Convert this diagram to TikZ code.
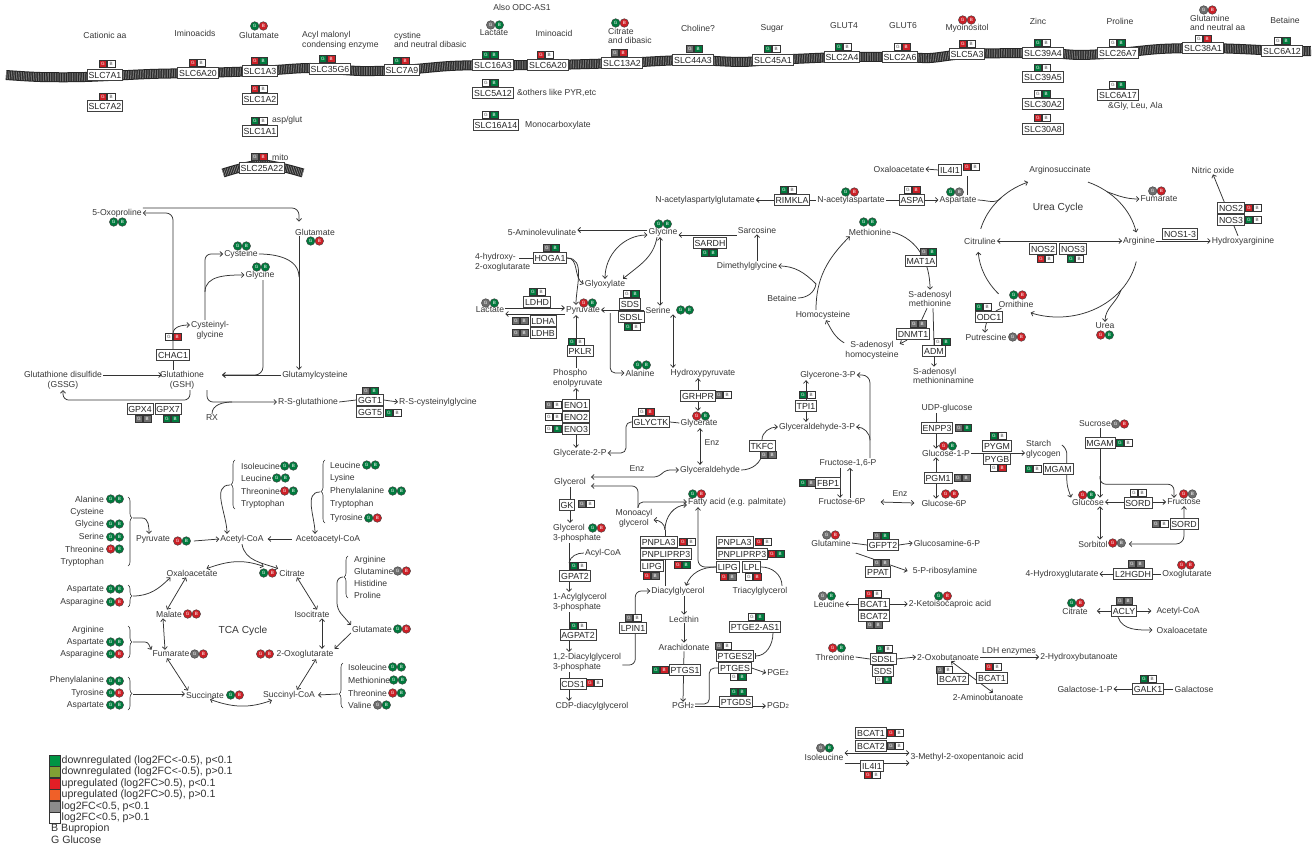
\documentclass[tikz,border=0pt]{standalone}
\usepackage{fontspec}
\setmainfont{Liberation Sans}
\usetikzlibrary{arrows.meta,decorations.pathreplacing}
\pgfdeclarelayer{bg}
\pgfsetlayers{bg,main}

\definecolor{gn}{RGB}{0,122,61}
\definecolor{rd}{RGB}{204,32,39}
\definecolor{gy}{RGB}{110,110,110}
\definecolor{wh}{RGB}{255,255,255}
\definecolor{lgn}{RGB}{0,148,68}
\definecolor{lol}{RGB}{128,160,52}
\definecolor{lrd}{RGB}{226,30,38}
\definecolor{lor}{RGB}{240,96,40}
\definecolor{lgy}{RGB}{140,140,140}
\colorlet{gnL}{white}
\colorlet{rdL}{white}
\colorlet{gyL}{white}
\colorlet{whL}{black!70}

% G/B boxes beside a gene: name, x, y, colour G, colour B
\newcommand{\gensq}[5]{%
  \node[sqr, fill=#4, text=#4L, anchor=east, xshift=-0.4pt] (#1g) at (#2,#3) {G};
  \node[sqr, fill=#5, text=#5L, anchor=west, xshift=0.4pt] (#1b) at (#2,#3) {B};}
% G/B dots beside a metabolite
\newcommand{\metdot}[5]{%
  \node[dotc, fill=#4, text=#4L, anchor=east, xshift=0.2pt] (#1g) at (#2,#3) {G};
  \node[dotc, fill=#5, text=#5L, anchor=west, xshift=-0.2pt] (#1b) at (#2,#3) {B};}

\begin{document}
\begin{tikzpicture}[
  x=1pt, y=-1pt,
  met/.style={font=\fontsize{8.6}{9.8}\selectfont, text=black!78, inner sep=1pt, align=center},
  big/.style={font=\fontsize{10.2}{11}\selectfont, text=black!78, inner sep=1pt},
  gene/.style={draw=black!75, line width=0.7pt, fill=white, font=\fontsize{8.8}{9}\selectfont, text=black!85, inner xsep=1.4pt, inner ysep=0pt, minimum height=11.6pt},
  sqr/.style={draw=black!80, line width=0.4pt, minimum width=7.2pt, minimum height=7pt, inner sep=0pt, font=\fontsize{4.6}{4.6}\selectfont},
  dotc/.style={circle, draw=black!75, line width=0.4pt, minimum size=8.6pt, inner sep=0pt, font=\fontsize{4.6}{4.6}\selectfont},
  ln/.style={draw=black!80, line width=0.75pt},
  arr/.style={ln, -{Straight Barb[length=2.6pt,width=5pt]}},
  darr/.style={ln, {Straight Barb[length=2.6pt,width=5pt]}-{Straight Barb[length=2.6pt,width=5pt]}},
  inh/.style={ln, -{Bar[width=6pt]}},
  brc/.style={draw=black!80, line width=0.6pt, decorate, decoration={brace, amplitude=4pt, aspect=#1}},
  brc/.default=0.5,
  lgd/.style={font=\fontsize{10.6}{11}\selectfont, text=black!80, anchor=west, inner sep=0pt}
]
\useasboundingbox (0,0) rectangle (1314,850);
\begin{pgfonlayer}{bg}
  \fill[white] (0,0) rectangle (1314,850);
\end{pgfonlayer}

% membranes
\draw[line width=10pt, black!85] plot[smooth] coordinates {(6,75) (40,77) (85,77) (150,74) (198,73) (260,71) (310,68) (360,71) (402,70) (450,66) (493,65) (548,65) (622,63) (660,61) (693,60) (740,62) (773,60) (842,57) (900,57) (930,58) (967,54) (1043,53) (1080,55) (1118,53) (1160,49) (1203,48) (1240,49) (1282,51) (1311,51)};
\draw[line width=8pt, black!40, dash pattern=on 0.5pt off 1.2pt] plot[smooth] coordinates {(6,75) (40,77) (85,77) (150,74) (198,73) (260,71) (310,68) (360,71) (402,70) (450,66) (493,65) (548,65) (622,63) (660,61) (693,60) (740,62) (773,60) (842,57) (900,57) (930,58) (967,54) (1043,53) (1080,55) (1118,53) (1160,49) (1203,48) (1240,49) (1282,51) (1311,51)};
\draw[line width=9pt, black!85] plot[smooth] coordinates {(223,173) (262,164) (303,173)};
\draw[line width=7pt, black!40, dash pattern=on 0.5pt off 1.2pt] plot[smooth] coordinates {(223,173) (262,164) (303,173)};

% transporters
\node[met] (catAA) at (105,35) {Cationic aa};
\node[met] (imino) at (195,33) {Iminoacids};
\node[met] (gluT) at (259,35) {Glutamate}; \metdot{dgluT}{259}{26}{gn}{rd}
\node[met, anchor=west, align=left] (acyl) at (301,40) {Acyl malonyl\\condensing enzyme};
\node[met, anchor=west, align=left] (cysdib) at (393,40) {cystine\\and neutral dibasic};
\node[met] (odcas) at (522,7) {Also ODC-AS1};
\node[met] (lacT) at (494,33) {Lactate}; \metdot{dlacT}{495}{25}{gy}{gn}
\node[met] (iminoB) at (554,33) {Iminoacid};
\node[met, anchor=west, align=left] (citT) at (607,36) {Citrate\\and dibasic}; \metdot{dcitT}{620}{23}{gn}{rd}
\node[met] (chol) at (698,28) {Choline?};
\node[met] (sugar) at (772,28) {Sugar};
\node[met] (glut4) at (844,26) {GLUT4};
\node[met] (glut6) at (903,26) {GLUT6};
\node[met] (myo) at (967,28) {Myoinositol}; \metdot{dmyo}{967}{20}{rd}{rd}
\node[met] (zinc) at (1038,21) {Zinc};
\node[met] (proT) at (1120,21) {Proline};
\node[met, anchor=west, align=left] (glnT) at (1189,23) {Glutamine\\and neutral aa}; \metdot{dglnT}{1208}{10}{gy}{rd}
\node[met] (betT) at (1285,20) {Betaine};

\node[gene] (slc7a1) at (105,75) {SLC7A1}; \gensq{slc7a1}{107}{64}{rd}{wh}
\node[gene] (slc7a2) at (105,106) {SLC7A2}; \gensq{slc7a2}{107}{97}{rd}{wh}
\node[gene] (slc6a20a) at (198,73) {SLC6A20}; \gensq{slc6a20a}{197}{63}{rd}{wh}
\node[gene] (slc1a3) at (260,71) {SLC1A3}; \gensq{slc1a3}{259}{61}{rd}{gn}
\node[gene] (slc1a2) at (260,99) {SLC1A2}; \gensq{slc1a2}{259}{89}{rd}{wh}
\node[gene] (slc1a1) at (260,131) {SLC1A1}; \gensq{slc1a1}{259}{121}{gn}{wh}
\node[met, anchor=west] (aspglu) at (271,120) {asp/glut};
\node[gene] (slc25a22) at (262,168) {SLC25A22}; \gensq{slc25a22}{259}{157}{gy}{rd}
\node[met, anchor=west] (mito) at (271,157) {mito};
\node[gene] (slc35g6) at (330,69) {SLC35G6}; \gensq{slc35g6}{327}{59}{gn}{rd}
\node[gene] (slc7a9) at (402,70) {SLC7A9}; \gensq{slc7a9}{401}{61}{gn}{rd}
\node[gene] (slc16a3) at (493,65) {SLC16A3}; \gensq{slc16a3}{490}{55}{gn}{gn}
\node[gene] (slc6a20b) at (548,65) {SLC6A20}; \gensq{slc6a20b}{545}{55}{rd}{wh}
\node[gene] (slc13a2) at (622,63) {SLC13A2}; \gensq{slc13a2}{619}{53}{gy}{rd}
\node[gene] (slc5a12) at (493,93) {SLC5A12}; \gensq{slc5a12}{490}{83}{wh}{gn}
\node[met, anchor=west] (pyrT) at (516,93) {\&others like PYR,etc};
\node[gene] (slc16a14) at (496,125) {SLC16A14}; \gensq{slc16a14}{490}{115}{wh}{gn}
\node[met, anchor=west] (monoc) at (524,125) {Monocarboxylate};
\node[gene] (slc44a3) at (693,60) {SLC44A3}; \gensq{slc44a3}{694}{49}{gy}{gn}
\node[gene] (slc45a1) at (773,60) {SLC45A1}; \gensq{slc45a1}{772}{49}{gn}{wh}
\node[gene] (slc2a4) at (842,57) {SLC2A4}; \gensq{slc2a4}{843}{47}{gn}{wh}
\node[gene] (slc2a6) at (900,57) {SLC2A6}; \gensq{slc2a6}{902}{47}{wh}{rd}
\node[gene] (slc5a3) at (967,54) {SLC5A3}; \gensq{slc5a3}{967}{44}{rd}{wh}
\node[gene] (slc39a4) at (1043,53) {SLC39A4}; \gensq{slc39a4}{1042}{43}{gn}{wh}
\node[gene] (slc39a5) at (1043,77) {SLC39A5}; \gensq{slc39a5}{1042}{68}{gn}{wh}
\node[gene] (slc30a2) at (1043,104) {SLC30A2}; \gensq{slc30a2}{1042}{94}{wh}{gn}
\node[gene] (slc30a8) at (1043,129) {SLC30A8}; \gensq{slc30a8}{1042}{118}{rd}{wh}
\node[gene] (slc26a7) at (1118,53) {SLC26A7}; \gensq{slc26a7}{1117}{43}{wh}{gn}
\node[gene] (slc6a17) at (1118,95) {SLC6A17}; \gensq{slc6a17}{1117}{85}{wh}{gn}
\node[met, anchor=west] (glyleu) at (1107,106) {\&Gly, Leu, Ala};
\node[gene] (slc38a1) at (1203,48) {SLC38A1}; \gensq{slc38a1}{1203}{39}{wh}{rd}
\node[gene] (slc6a12) at (1282,51) {SLC6A12}; \gensq{slc6a12}{1282}{41}{wh}{gn}

% glutathione
\node[met] (oxopro) at (117,213) {5-Oxoproline}; \metdot{doxo}{118}{222}{gn}{gn}
\node[met] (gluG) at (315,232) {Glutamate}; \metdot{dgluG}{315}{241}{gn}{rd}
\node[met] (cys) at (241,254) {Cysteine}; \metdot{dcys}{242}{246}{gn}{gn}
\node[met] (glyA) at (260,275) {Glycine}; \metdot{dglyA}{261}{267}{gn}{gn}
\node[met] (cysgly) at (210,330) {Cysteinyl-\\glycine};
\node[met] (gsh) at (182,380) {Glutathione\\(GSH)};
\node[met] (gssg) at (63,380) {Glutathione disulfide\\(GSSG)};
\node[met] (glucys) at (315,375) {Glutamylcysteine};
\node[met] (rsglu) at (308,402) {R-S-glutathione};
\node[met] (rx) at (212,418) {RX};
\node[met, anchor=west] (rscg) at (398,402) {R-S-cysteinylglycine};
\node[gene] (chac1) at (173,355) {CHAC1}; \gensq{chac1}{173}{337}{wh}{rd}
\node[gene] (gpx4) at (140,409) {GPX4}; \gensq{gpx4}{143}{419}{gy}{gy}
\node[gene] (gpx7) at (168,409) {GPX7}; \gensq{gpx7}{171}{419}{gn}{gn}
\node[gene] (ggt1) at (370,400) {GGT1}; \gensq{ggt1}{370}{391}{gy}{gn}
\node[gene] (ggt5) at (370,412) {GGT5}; \gensq{ggt5}{393}{413}{gn}{wh}

% glycine, serine and pyruvate
\node[met] (nagg) at (705,200) {N-acetylaspartylglutamate};
\node[gene] (rimkla) at (792,200) {RIMKLA}; \gensq{rimkla}{788}{190}{gn}{wh}
\node[met] (naa) at (851,200) {N-acetylaspartate}; \metdot{dnaa}{850}{192}{gn}{rd}
\node[gene] (aspa) at (912,200) {ASPA}; \gensq{aspa}{912}{190}{wh}{rd}
\node[met] (asp) at (958,200) {Aspartate}; \metdot{dasp}{955}{192}{gn}{gy}
\node[met] (oaaU) at (899,169) {Oxaloacetate};
\node[gene] (il4i1a) at (950,170) {IL4I1}; \gensq{il4i1a}{971}{167}{rd}{wh}
\node[met] (glyB) at (663,232) {Glycine}; \metdot{dglyB}{663}{224}{gn}{gn}
\node[met] (ala5) at (542,232) {5-Aminolevulinate};
\node[met] (sarc) at (757,230) {Sarcosine};
\node[gene] (sardh) at (710,243) {SARDH}; \gensq{sardh}{709}{253}{gn}{gn}
\node[met] (dmg) at (747,266) {Dimethylglycine};
\node[met] (bet) at (782,298) {Betaine};
\node[met] (hcy) at (823,315) {Homocysteine};
\node[met] (meth) at (870,232) {Methionine}; \metdot{dmeth}{868}{222}{gn}{gn}
\node[met, anchor=west, align=left] (hoxo) at (474,262) {4-hydroxy-\\2-oxoglutarate};
\node[gene] (hoga1) at (550,258) {HOGA1}; \gensq{hoga1}{551}{248}{gy}{gn}
\node[met] (glyox) at (605,284) {Glyoxylate};
\node[met] (pyr) at (583,310) {Pyruvate}; \metdot{dpyr}{588}{303}{rd}{gn}
\node[met] (lac) at (490,310) {Lactate}; \metdot{dlac}{490}{303}{gy}{gn}
\node[gene] (ldhd) at (537,302) {LDHD}; \gensq{ldhd}{537}{292}{gn}{wh}
\node[gene] (ldha) at (543,321) {LDHA}; \gensq{ldha}{520}{321}{gy}{gy}
\node[gene] (ldhb) at (543,333) {LDHB}; \gensq{ldhb}{520}{333}{gy}{gy}
\node[met] (ser) at (658,310) {Serine}; \metdot{dser}{685}{310}{gn}{gn}
\node[gene] (sds) at (630,304) {SDS}; \gensq{sds}{631}{294}{wh}{gn}
\node[gene] (sdsl) at (631,317) {SDSL}; \gensq{sdsl}{632}{327}{gn}{wh}
\node[met] (ala) at (640,373) {Alanine}; \metdot{dala}{642}{365}{gn}{gn}
\node[met] (hpyr) at (703,373) {Hydroxypyruvate};
\node[gene] (pklr) at (580,351) {PKLR}; \gensq{pklr}{576}{342}{gn}{wh}
\node[met, anchor=west, align=left] (pep) at (552,378) {Phospho\\enolpyruvate};
\node[gene] (eno1) at (576,405) {ENO1}; \gensq{eno1}{553}{405}{gy}{wh}
\node[gene] (eno2) at (576,417) {ENO2}; \gensq{eno2}{553}{417}{wh}{wh}
\node[gene] (eno3) at (576,429) {ENO3}; \gensq{eno3}{553}{429}{wh}{gn}
\node[met] (g2p) at (580,453) {Glycerate-2-P};
\node[gene] (grhpr) at (698,396) {GRHPR}; \gensq{grhpr}{723}{395}{gy}{wh}
\node[met] (glyc) at (699,423) {Glycerate}; \metdot{dglyc}{701}{416}{rd}{gn}
\node[gene] (glyctk) at (651,422) {GLYCTK}; \gensq{glyctk}{646}{412}{wh}{rd}
\node[met] (glyald) at (710,470) {Glyceraldehyde};
\node[met] (enzA) at (712,443) {Enz};
\node[met] (enzB) at (637,469) {Enz};
\node[gene] (tkfc) at (762,446) {TKFC}; \gensq{tkfc}{768}{455}{gy}{gy}

% lipids
\node[met] (glyl) at (570,482) {Glycerol};
\node[gene] (gk) at (567,505) {GK}; \gensq{gk}{586}{504}{gy}{wh}
\node[met, anchor=west, align=left] (g3p) at (552,533) {Glycerol\\3-phosphate}; \metdot{dg3p}{597}{528}{gn}{rd}
\node[gene] (gpat2) at (575,576) {GPAT2}; \gensq{gpat2}{578}{566}{gn}{wh}
\node[met] (acoaB) at (603,553) {Acyl-CoA};
\node[met, anchor=west, align=left] (acg) at (552,602) {1-Acylglycerol\\3-phosphate};
\node[gene] (agpat2) at (578,635) {AGPAT2}; \gensq{agpat2}{578}{626}{gn}{wh}
\node[met, anchor=west, align=left] (dagp) at (552,662) {1,2-Diacylglycerol\\3-phosphate};
\node[gene] (cds1) at (573,684) {CDS1}; \gensq{cds1}{594}{683}{rd}{wh}
\node[met] (cdpdag) at (592,706) {CDP-diacylglycerol};
\node[gene] (lpin1) at (633,628) {LPIN1}; \gensq{lpin1}{633}{618}{gy}{wh}
\node[met] (mag) at (634,518) {Monoacyl\\glycerol};
\node[met] (fa) at (737,502) {Fatty acid (e.g. palmitate)}; \metdot{dfa}{697}{494}{gn}{rd}
\node[met] (dag) at (678,591) {Diacylglycerol};
\node[met] (tag) at (760,591) {Triacylglycerol};
\node[met] (lec) at (684,619) {Lecithin};
\node[met] (arach) at (684,647) {Arachidonate};
\node[gene, anchor=west] (pnpla3a) at (640,542) {PNPLA3}; \gensq{pnpla3a}{687}{542}{rd}{wh}
\node[gene, anchor=west] (pnliprp3a) at (640,554) {PNPLIPRP3}; \gensq{pnliprp3a}{682}{565}{rd}{gn}
\node[gene, anchor=west] (lipga) at (640,566) {LIPG}; \gensq{lipga}{651}{576}{rd}{gy}
\node[gene, anchor=west] (pnpla3b) at (716,542) {PNPLA3}; \gensq{pnpla3b}{763}{542}{rd}{wh}
\node[gene, anchor=west] (pnliprp3b) at (716,554) {PNPLIPRP3}; \gensq{pnliprp3b}{776}{554}{rd}{gn}
\node[gene, anchor=west] (lipgb) at (716,567) {LIPG}; \gensq{lipgb}{728}{577}{rd}{gy}
\node[gene, anchor=west] (lpl) at (742,567) {LPL}; \gensq{lpl}{753}{577}{wh}{rd}
\node[gene] (ptgeas) at (755,627) {PTGE2-AS1}; \gensq{ptgeas}{756}{617}{wh}{gn}
\node[gene] (ptges2) at (735,656) {PTGES2}; \gensq{ptges2}{723}{646}{gy}{wh}
\node[gene] (ptges) at (735,668) {PTGES}; \gensq{ptges}{738}{677}{wh}{gn}
\node[met] (pge2) at (778,673) {PGE{\fontsize{6}{6}\selectfont 2}};
\node[gene] (ptgs1) at (685,670) {PTGS1}; \gensq{ptgs1}{660}{670}{gn}{rd}
\node[met] (pgh2) at (683,706) {PGH{\fontsize{6}{6}\selectfont 2}};
\node[gene] (ptgds) at (736,702) {PTGDS}; \gensq{ptgds}{738}{692}{gn}{gn}
\node[met] (pgd2) at (778,706) {PGD{\fontsize{6}{6}\selectfont 2}};

% urea and methionine cycles
\node[met] (argsuc) at (1060,170) {Arginosuccinate};
\node[big] (ucyc) at (1058,208) {Urea Cycle};
\node[met] (citr) at (980,241) {Citruline};
\node[met] (arg) at (1139,241) {Arginine};
\node[met] (fum2) at (1159,199) {Fumarate}; \metdot{dfum2}{1157}{191}{gy}{rd}
\node[gene] (nos2a) at (1043,249) {NOS2}; \gensq{nos2a}{1045}{259}{rd}{wh}
\node[gene] (nos3a) at (1073,249) {NOS3}; \gensq{nos3a}{1075}{259}{gn}{wh}
\node[gene] (nos13) at (1180,234) {NOS1-3};
\node[met] (harg) at (1243,241) {Hydroxyarginine};
\node[gene] (nos2b) at (1231,208) {NOS2}; \gensq{nos2b}{1253}{208}{rd}{wh}
\node[gene] (nos3b) at (1231,220) {NOS3}; \gensq{nos3b}{1253}{220}{gn}{wh}
\node[met] (nitox) at (1213,170) {Nitric oxide};
\node[met] (orn) at (1016,304) {Ornithine}; \metdot{dorn}{1018}{295}{gn}{rd}
\node[gene] (odc1) at (989,317) {ODC1}; \gensq{odc1}{983}{307}{gn}{wh}
\node[met] (putr) at (986,337) {Putrescine}; \metdot{dputr}{1017}{337}{gy}{rd}
\node[met] (urea) at (1105,326) {Urea}; \metdot{durea}{1105}{335}{rd}{gn}
\node[gene] (mat1a) at (921,261) {MAT1A}; \gensq{mat1a}{928}{252}{gy}{gn}
\node[met] (sam) at (930,299) {S-adenosyl\\methionine};
\node[gene] (dnmt1) at (913,334) {DNMT1}; \gensq{dnmt1}{918}{324}{gy}{gy}
\node[met] (sah) at (872,350) {S-adenosyl\\homocysteine};
\node[gene] (adm) at (934,351) {ADM}; \gensq{adm}{942}{342}{wh}{gn}
\node[met, anchor=west, align=left] (samn) at (912,376) {S-adenosyl\\methioninamine};

% sugars
\node[met] (glycn) at (828,375) {Glycerone-3-P};
\node[gene] (tpi1) at (806,406) {TPI1}; \gensq{tpi1}{807}{395}{gn}{wh}
\node[met] (gly3p) at (817,427) {Glyceraldehyde-3-P};
\node[met] (f16p) at (848,463) {Fructose-1,6-P};
\node[gene] (fbp1) at (828,483) {FBP1}; \gensq{fbp1}{807}{483}{gn}{gy}
\node[met] (f6p) at (842,502) {Fructose-6P};
\node[met] (enzC) at (900,494) {Enz};
\node[met] (g6p) at (944,503) {Glucose-6P}; \metdot{dg6p}{950}{494}{rd}{rd}
\node[gene] (pgm1) at (938,478) {PGM1}; \gensq{pgm1}{962}{478}{gy}{gy}
\node[met] (g1p) at (946,453) {Glucose-1-P}; \metdot{dg1p}{948}{446}{rd}{gn}
\node[gene] (enpp3) at (937,428) {ENPP3}; \gensq{enpp3}{963}{428}{gy}{gn}
\node[met] (udpg) at (947,408) {UDP-glucose};
\node[gene] (pygm) at (997,446) {PYGM}; \gensq{pygm}{998}{436}{gn}{wh}
\node[gene] (pygb) at (997,459) {PYGB}; \gensq{pygb}{998}{468}{wh}{rd}
\node[met, anchor=west, align=left] (starch) at (1025,449) {Starch\\glycogen};
\node[gene] (mgamb) at (1058,469) {MGAM}; \gensq{mgamb}{1033}{469}{gn}{wh}
\node[met] (glc) at (1088,502) {Glucose}; \metdot{dglc}{1087}{495}{rd}{gn}
\node[met] (sucr) at (1095,424) {Sucrose}; \metdot{dsucr}{1120}{424}{gy}{rd}
\node[gene] (mgama) at (1100,443) {MGAM}; \gensq{mgama}{1124}{443}{gn}{wh}
\node[met] (fru) at (1184,502) {Fructose}; \metdot{dfru}{1188}{494}{rd}{gy}
\node[gene] (sorda) at (1138,503) {SORD}; \gensq{sorda}{1138}{493}{wh}{wh}
\node[met] (sorb) at (1093,544) {Sorbitol}; \metdot{dsorb}{1117}{543}{rd}{gy}
\node[gene] (sordb) at (1184,524) {SORD}; \gensq{sordb}{1160}{524}{gy}{wh}

% amino acid side reactions
\node[met] (gln) at (831,543) {Glutamine}; \metdot{dgln}{831}{535}{gy}{rd}
\node[gene] (gfpt2) at (883,545) {GFPT2}; \gensq{gfpt2}{881}{536}{gy}{gn}
\node[met] (gcn6p) at (947,543) {Glucosamine-6-P};
\node[gene] (ppat) at (878,572) {PPAT}; \gensq{ppat}{881}{563}{gy}{gy}
\node[met] (prib) at (945,571) {5-P-ribosylamine};
\node[met] (hglu) at (1062,574) {4-Hydroxyglutarate};
\node[gene] (l2hgdh) at (1133,574) {L2HGDH}; \gensq{l2hgdh}{1136}{564}{gy}{gy}
\node[met] (oxg) at (1187,574) {Oxoglutarate}; \metdot{doxg}{1186}{565}{rd}{rd}
\node[met] (leu) at (829,604) {Leucine}; \metdot{dleu}{827}{596}{gy}{gn}
\node[gene] (bcat1a) at (874,604) {BCAT1}; \gensq{bcat1a}{873}{594}{rd}{wh}
\node[gene] (bcat2a) at (874,616) {BCAT2}; \gensq{bcat2a}{874}{625}{gy}{gy}
\node[met] (kic) at (950,604) {2-Ketoisocaproic acid}; \metdot{dkic}{943}{596}{gn}{rd}
\node[met] (citB) at (1075,611) {Citrate}; \metdot{dcitB}{1076}{603}{gn}{rd}
\node[gene] (acly) at (1124,611) {ACLY}; \gensq{acly}{1124}{601}{gy}{gy}
\node[met] (acoaC) at (1178,611) {Acetyl-CoA};
\node[met] (oaaC) at (1182,630) {Oxaloacetate};
\node[met] (thr) at (835,657) {Threonine}; \metdot{dthr}{837}{648}{rd}{gn}
\node[gene] (sdslB) at (883,659) {SDSL}; \gensq{sdslB}{884}{649}{gn}{wh}
\node[gene] (sdsB) at (883,671) {SDS}; \gensq{sdsB}{883}{680}{wh}{gn}
\node[met] (obut) at (948,657) {2-Oxobutanoate};
\node[met] (ldhe) at (1009,651) {LDH enzymes};
\node[met] (hbut) at (1079,657) {2-Hydroxybutanoate};
\node[gene] (bcat2b) at (953,679) {BCAT2}; \gensq{bcat2b}{944}{670}{gy}{wh}
\node[gene] (bcat1b) at (992,678) {BCAT1}; \gensq{bcat1b}{993}{667}{rd}{wh}
\node[met] (abut) at (988,697) {2-Aminobutanoate};
\node[met] (gal1p) at (1085,689) {Galactose-1-P};
\node[gene] (galk1) at (1148,689) {GALK1}; \gensq{galk1}{1148}{679}{gn}{wh}
\node[met] (galac) at (1194,689) {Galactose};
\node[met] (ileB) at (824,757) {Isoleucine}; \metdot{dileB}{825}{748}{gy}{gn}
\node[gene] (bcat1c) at (871,733) {BCAT1}; \gensq{bcat1c}{895}{733}{rd}{wh}
\node[gene] (bcat2c) at (871,746) {BCAT2}; \gensq{bcat2c}{895}{746}{gy}{wh}
\node[gene] (il4i1b) at (872,766) {IL4I1}; \gensq{il4i1b}{872}{775}{rd}{wh}
\node[met] (mop) at (967,757) {3-Methyl-2-oxopentanoic acid};

% TCA cycle
\node[met] (pyrB) at (153,539) {Pyruvate}; \metdot{dpyrB}{182}{541}{rd}{gn}
\node[met] (acoa) at (242,539) {Acetyl-CoA};
\node[met] (aacoa) at (328,539) {Acetoacetyl-CoA};
\node[met] (oaa) at (192,573) {Oxaloacetate};
\node[met] (cit) at (292,573) {Citrate}; \metdot{dcit}{268}{573}{gn}{rd}
\node[met] (icit) at (312,614) {Isocitrate};
\node[met] (akg) at (305,654) {2-Oxoglutarate}; \metdot{dakg}{265}{654}{rd}{rd}
\node[met] (scoa) at (289,695) {Succinyl-CoA};
\node[met] (succ) at (205,695) {Succinate}; \metdot{dsucc}{235}{695}{gn}{rd}
\node[met] (fum) at (171,654) {Fumarate}; \metdot{dfum}{199}{654}{gy}{rd}
\node[met] (mal) at (169,614) {Malate}; \metdot{dmal}{192}{614}{rd}{rd}
\node[big] (tca) at (243,631) {TCA Cycle};
\node[met] (glu3) at (372,629) {Glutamate}; \metdot{dglu3}{402}{629}{gn}{rd}

% amino acid lists
\foreach \t/\y/\n in {Alanine/499/la1, Cysteine/512/la2, Glycine/524/la3, Serine/536/la4, Threonine/549/la5, Tryptophan/562/la6,
    Aspartate/589/lb1, Asparagine/602/lb2, Arginine/630/lc1, Aspartate/642/lc2, Asparagine/654/lc3,
    Phenylalanine/680/ld1, Tyrosine/693/ld2, Aspartate/705/ld3}
  \node[met, anchor=east] (\n) at (105,\y) {\t};
\metdot{dla1}{115}{499}{gn}{gn} \metdot{dla3}{115}{524}{gn}{gn} \metdot{dla4}{115}{537}{gn}{gn} \metdot{dla5}{115}{549}{rd}{gn}
\metdot{dlb1}{115}{589}{gn}{gn} \metdot{dlb2}{115}{602}{gn}{rd}
\metdot{dlc2}{115}{642}{gn}{gn} \metdot{dlc3}{115}{654}{gn}{rd}
\metdot{dld1}{115}{681}{gn}{gn} \metdot{dld2}{115}{693}{gn}{rd} \metdot{dld3}{115}{705}{gn}{gn}
\foreach \t/\y/\n in {Isoleucine/466/le1, Leucine/478/le2, Threonine/491/le3, Tryptophan/504/le4}
  \node[met, anchor=west] (\n) at (240,\y) {\t};
\metdot{dle1}{289}{466}{gn}{gn} \metdot{dle2}{281}{478}{gn}{gn} \metdot{dle3}{289}{491}{rd}{gn}
\foreach \t/\y/\n in {Leucine/465/lf1, Lysine/478/lf2, Phenylalanine/491/lf3, Tryptophan/504/lf4, Tyrosine/518/lf5}
  \node[met, anchor=west] (\n) at (329,\y) {\t};
\metdot{dlf1}{371}{465}{gn}{gn} \metdot{dlf3}{397}{491}{gn}{gn} \metdot{dlf5}{373}{518}{gn}{rd}
\foreach \t/\y/\n in {Arginine/560/lg1, Glutamine/571/lg2, Histidine/583/lg3, Proline/595/lg4}
  \node[met, anchor=west] (\n) at (353,\y) {\t};
\metdot{dlg2}{402}{571}{gy}{rd}
\foreach \t/\y/\n in {Isoleucine/667/lh1, Methionine/680/lh2, Threonine/693/lh3, Valine/705/lh4}
  \node[met, anchor=west] (\n) at (347,\y) {\t};
\metdot{dlh1}{397}{667}{gn}{gn} \metdot{dlh2}{398}{680}{gn}{gn} \metdot{dlh3}{397}{693}{rd}{gn} \metdot{dlh4}{382}{705}{gy}{gn}

% brace ends and tips
\coordinate (b1a) at (128,497); \coordinate (b1b) at (128,566); \coordinate (b1t) at (133,518);
\coordinate (b2a) at (128,585); \coordinate (b2b) at (128,607); \coordinate (b2t) at (133,596);
\coordinate (b3a) at (128,626); \coordinate (b3b) at (128,658); \coordinate (b3t) at (133,642);
\coordinate (b4a) at (128,677); \coordinate (b4b) at (128,710); \coordinate (b4t) at (133,694);
\coordinate (bAa) at (235,509); \coordinate (bAb) at (235,460); \coordinate (bAt) at (230,485);
\coordinate (bBa) at (325,523); \coordinate (bBb) at (325,460); \coordinate (bBt) at (320,492);
\coordinate (bCa) at (348,598); \coordinate (bCb) at (348,556); \coordinate (bCt) at (343,577);
\coordinate (bDa) at (343,708); \coordinate (bDb) at (343,663); \coordinate (bDt) at (338,694);

% legend
\foreach \c/\y/\t in {lgn/761/{downregulated (log2FC<-0.5), p<0.1}, lol/772/{downregulated (log2FC<-0.5), p>0.1},
    lrd/784/{upregulated (log2FC>0.5), p<0.1}, lor/795/{upregulated (log2FC>0.5), p>0.1},
    lgy/807/{log2FC<0.5, p<0.1}, wh/818/{log2FC<0.5, p>0.1}} {
  \node[draw=black!80, line width=0.5pt, fill=\c, minimum size=11pt, inner sep=0pt] (lsq\y) at (55,\y) {};
  \node[lgd] (ltx\y) at (61.5,\y) {\t};
}
\node[lgd] (lbup) at (51,829) {B Bupropion};
\node[lgd] (lglc) at (51,840) {G Glucose};

% ---------------- connectors ----------------
\begin{pgfonlayer}{bg}
  % glutathione
  \draw[ln] (chac1.south) -- (chac1.south |- gsh.north);
  \draw[arr, rounded corners=7pt] (chac1.north) |- (oxopro.east);
  \draw[arr] ([yshift=15pt]chac1.north) to[out=90,in=180] ([yshift=5pt]cysgly.west);
  \coordinate (cgx) at ([xshift=-5pt]cysgly.north);
  \draw[arr, rounded corners=6pt] (cgx) |- (cys.west);
  \draw[arr] ([yshift=28pt]cgx) to[out=90,in=180] (glyA.west);
  \draw[arr, rounded corners=7pt] ([yshift=5pt]oxopro.east) -| ([xshift=-16pt,yshift=6pt]gluG.north);
  \coordinate (gcj) at (299,277);
  \draw[ln] (cys.east) to[out=0,in=90] (gcj);
  \coordinate (gluGx) at ([xshift=-16pt]gluG.south);
  \draw[arr] (gluGx) -- (gluGx |- glucys.north);
  \draw[arr, rounded corners=8pt] ([xshift=3pt]glyA.south) |- ([xshift=17pt,yshift=5pt]gsh.east);
  \draw[arr] (glucys.west) -- ([xshift=17pt,yshift=5pt]gsh.east);
  \draw[arr] ([yshift=5pt]gssg.east) -- ([xshift=3pt,yshift=5pt]gsh.west);
  \draw[arr, rounded corners=6pt] ([xshift=8pt]gsh.south) -- ++(0,-10pt) -| (gssg.south);
  \draw[arr, rounded corners=6pt] ([xshift=25pt]gsh.south) |- (rsglu.west);
  \coordinate (rxj) at (232,402);
  \draw[ln] (rx.north) to[out=90,in=180] (rxj);
  \draw[ln] (rsglu.east) -- (ggt1.west);
  \draw[arr] (ggt1.east) -- (rscg.west);

  % aspartate branch
  \draw[arr] (rimkla.west) -- (nagg.east);
  \draw[ln] (naa.west) -- (rimkla.east);
  \draw[ln] (naa.east) -- (aspa.west);
  \draw[arr] (aspa.east) -- (asp.west);
  \draw[arr] (il4i1a.west) -- (oaaU.east);
  \coordinate (aspUp) at ([xshift=9pt]asp.north);
  \draw[ln] (aspUp) -- (aspUp |- il4i1a.south);

  % glycine and pyruvate
  \draw[arr] ([yshift=2pt]glyB.west) -- ([yshift=2pt]ala5.east);
  \draw[darr] (glyox.north) to[out=90,in=180] ([yshift=-3pt]glyB.west);
  \draw[arr] ([xshift=-6pt]glyB.south) to[out=-100,in=40] ([xshift=18pt]glyox.north);
  \draw[darr] ([xshift=-3pt]glyB.south) -- ([xshift=2pt]ser.north);
  \draw[arr] ([yshift=-5pt]sarc.west) -- ([yshift=-3pt]glyB.east);
  \coordinate (dmgx) at ([xshift=10pt]dmg.north);
  \draw[arr] (dmgx) -- (dmgx |- sarc.south);
  \coordinate (mcj) at (816,284);
  \draw[arr] ([xshift=-7pt]hcy.north) to[out=90,in=-135] ([xshift=2pt]meth.south west);
  \draw[arr] (mcj) to[out=135,in=0] (dmg.east);
  \draw[ln] (bet.east) to[out=0,in=-100] (mcj);
  \draw[arr] ([yshift=-3pt]sah.north west) to[out=150,in=-60] ([xshift=3pt]hcy.south);
  \draw[arr] ([yshift=2pt]lac.east) -- ([yshift=2pt]pyr.west);
  \draw[arr] ([yshift=-4pt]pyr.west) -- ([yshift=-4pt]lac.east);
  \draw[arr] (ser.west) -- (pyr.east);
  \draw[ln] ([xshift=-12pt,yshift=4pt]hoxo.east) -- (hoga1.west);
  \draw[arr] (hoga1.east) to[out=0,in=150] (glyox.west);
  \draw[arr] (hoga1.east) to[out=0,in=90] ([xshift=-7pt]pyr.north);
  \coordinate (pepx) at ([xshift=-7pt]pyr.south);
  \draw[arr] (pepx |- pep.north) -- (pepx);
  \draw[arr, rounded corners=5pt] ([xshift=9pt,yshift=-3pt]pyr.east) |- (ala.west);
  \coordinate (serx) at ([xshift=15pt]ser.south);
  \draw[darr] (serx) -- (serx |- hpyr.north);
  \draw[arr] (eno1.north) -- (eno1.north |- pep.south);
  \draw[arr] (eno3.south) -- (eno3.south |- g2p.north);
  \draw[arr] (grhpr.north) -- (grhpr.north |- hpyr.south);
  \coordinate (grx) at (grhpr.south |- glyc.north);
  \draw[arr] (grhpr.south) -- ([yshift=7pt]grx);
  \draw[ln] (glyc.west) -- (glyctk.east);
  \draw[arr, rounded corners=5pt] (glyctk.west) -- ++(-6pt,0) |- (g2p.east);
  \draw[darr] ([xshift=1pt]glyc.south) -- ([xshift=-10pt]glyald.north);
  \draw[darr, rounded corners=5pt] (glyald.west) -- ++(-14pt,0) -- ++(-6pt,-7pt) -- ([xshift=4pt,yshift=5pt]glyl.east);
  \draw[ln] (glyald.east) to[out=0,in=-90] (tkfc.south);
  \draw[arr] (tkfc.north) to[out=90,in=180] (gly3p.west);

  % lipids
  \draw[arr] (glyl.south) -- (glyl.south |- g3p.north);
  \coordinate (gpx) at ([xshift=17pt]g3p.south west);
  \draw[arr] (gpx) -- (gpx |- acg.north);
  \coordinate (acj) at (569,563);
  \draw[ln] (acoaB.west) to[out=180,in=80] (acj);
  \coordinate (acx) at ([xshift=17pt]acg.south west);
  \draw[arr] (acx) -- (acx |- dagp.north);
  \coordinate (dgx) at ([xshift=17pt]dagp.south west);
  \draw[arr] (dgx) -- (dgx |- cdpdag.north);
  \draw[arr, rounded corners=6pt] ([yshift=-3pt]dagp.east) -| ([xshift=-15pt]dag.west) -- (dag.west);
  \draw[arr] ([xshift=6pt]dag.south) -- (lec.north);
  \draw[arr] (lec.south) -- (arach.north);
  \draw[arr] (arach.south) -- (pgh2.north);
  \coordinate (mgx) at ([xshift=4pt]mag.north);
  \draw[arr, rounded corners=6pt] (mgx) |- ([xshift=4pt,yshift=-4pt]glyl.east);
  \draw[arr, rounded corners=5pt] (mgx) |- (fa.west);
  \coordinate (lpj) at ([xshift=-13pt,yshift=56pt]dag.north);
  \draw[ln] ([xshift=-13pt]dag.north) -- (lpj);
  \draw[arr] (lpj) to[out=90,in=0] ([yshift=-2pt]mag.east);
  \draw[arr] (lpj) to[out=90,in=180] ([yshift=-3pt]fa.west);
  \coordinate (fax) at ([xshift=-39pt]fa.south);
  \draw[arr, rounded corners=7pt] (lipgb.west) -| (fax);
  \draw[arr] (lipgb.west) to[out=180,in=70] ([xshift=8pt]dag.north);
  \draw[ln] ([xshift=22pt]tag.north) to[out=90,in=0] (lpl.east);
  \draw[inh] ([xshift=-8pt]ptgeas.south east) to[out=-90,in=0] ([xshift=1pt]ptges2.east);
  \draw[arr] (ptges.east) -- (pge2.west);
  \draw[arr] (pgh2.east) -- (pgd2.west);
  \draw[ln, rounded corners=5pt] ([yshift=2pt]pgh2.east) -| ([xshift=-9pt]ptges.west) -- (ptges.west);

  % urea cycle
  \coordinate (uc) at (1058,247);
  \draw[arr] ([shift={(165:80pt and 70pt)}]uc) arc[start angle=165, end angle=112, x radius=80pt, y radius=70pt];
  \draw[arr] ([shift={(68:80pt and 70pt)}]uc) arc[start angle=68, end angle=12, x radius=80pt, y radius=70pt];
  \draw[arr] ([shift={(-12:80pt and 70pt)}]uc) arc[start angle=-12, end angle=-110, x radius=80pt, y radius=70pt];
  \draw[arr] ([shift={(-138:80pt and 70pt)}]uc) arc[start angle=-138, end angle=-176, x radius=80pt, y radius=70pt];
  \coordinate (ucAsp) at ([shift={(135:80pt and 70pt)}]uc);
  \draw[ln] (asp.east) to[out=0,in=-130] (ucAsp);
  \coordinate (ucFum) at ([shift={(52:80pt and 70pt)}]uc);
  \draw[arr] (ucFum) to[out=-20,in=180] (fum2.west);
  \coordinate (ucUrea) at ([shift={(-38:80pt and 70pt)}]uc);
  \draw[arr] (ucUrea) to[out=-110,in=90] (urea.north);
  \draw[darr] (citr.east) -- (arg.west);
  \draw[arr] (arg.east) -- (harg.west);
  \coordinate (hax) at ([xshift=-5pt]harg.north);
  \draw[arr] (hax) -- (nitox.south);
  \draw[arr] ([xshift=4pt]orn.south west) to[out=-160,in=90] ([xshift=-1pt]putr.north);
  \draw[arr] (meth.east) to[out=-15,in=90] (sam.north);
  \draw[ln] ([xshift=-3pt]sam.south) -- ([xshift=5pt]dnmt1.north);
  \draw[arr] ([xshift=-6pt]dnmt1.south) -- ([yshift=-4pt]sah.north east);
  \draw[ln] ([xshift=3pt]sam.south) -- (adm.north);
  \draw[arr] (adm.south) -- (adm.south |- samn.north);

  % sugars
  \draw[arr] (tpi1.north) -- (tpi1.north |- glycn.south);
  \draw[arr] (tpi1.south) -- (tpi1.south |- gly3p.north);
  \coordinate (f16x) at ([xshift=22pt]f16p.north);
  \draw[arr, rounded corners=8pt] (f16x) |- (glycn.east);
  \draw[arr] ([yshift=18pt]f16x) to[out=90,in=0] (gly3p.east);
  \coordinate (fdx) at ([xshift=-8pt]f16p.south);
  \draw[arr] (fdx) -- (fdx |- f6p.north);
  \coordinate (fux) at ([xshift=2pt]f16p.south);
  \draw[arr] (fux |- f6p.north) -- (fux);
  \draw[darr] ([xshift=14pt]f6p.east) -- ([xshift=-6pt]g6p.west);
  \coordinate (gpx6) at ([xshift=-8pt]g6p.north);
  \draw[darr] (gpx6) -- (gpx6 |- g1p.south);
  \coordinate (udx) at ([xshift=-11pt]udpg.south);
  \draw[arr] (udx) -- (udx |- g1p.north);
  \draw[arr] (g1p.east) -- (g1p.east -| starch.west);
  \draw[arr, rounded corners=5pt] ([yshift=4pt]starch.east) -- ++(5pt,-4pt) -- ++(0,-36pt) -- (glc.north west);
  \coordinate (sux) at ([xshift=5pt]sucr.south);
  \draw[arr] (sux) -- (sux |- glc.north);
  \draw[arr, rounded corners=6pt] ([yshift=-48pt]sux) -- ([yshift=-56pt]sux) -| ([xshift=-10pt]fru.north);
  \draw[darr] (glc.east) -- (fru.west);
  \coordinate (glx) at ([xshift=12pt]glc.south);
  \draw[darr] (glx) -- (glx |- sorb.north);
  \draw[darr, rounded corners=8pt] (fru.south) |- ([xshift=20pt]sorb.east);

  % side reactions
  \draw[ln] (gln.east) -- (gfpt2.west);
  \draw[arr] (gfpt2.east) -- (gcn6p.west);
  \draw[arr] ([xshift=4pt,yshift=-10pt]gln.east) -- ([xshift=-4pt]prib.west);
  \draw[arr] (l2hgdh.west) -- (hglu.east);
  \draw[ln] (oxg.west) -- (l2hgdh.east);
  \draw[arr] (bcat1a.west) -- (leu.east);
  \draw[arr] (bcat1a.east) -- (kic.west);
  \draw[arr] (acly.west) -- ([xshift=8pt]citB.east);
  \draw[arr] (acly.east) -- ([xshift=-4pt]acoaC.west);
  \draw[arr] ([xshift=-6pt]acly.south) to[out=-70,in=180] ([xshift=-3pt]oaaC.west);
  \draw[ln] (thr.east) -- (sdslB.west);
  \draw[arr] (sdslB.east) -- (obut.west);
  \draw[arr] (obut.east) -- (hbut.west);
  \draw[darr] ([xshift=3pt]obut.south) -- ([xshift=5pt]abut.north);
  \draw[arr] (galk1.west) -- (gal1p.east);
  \draw[ln] (galac.west) -- (galk1.east);
  \draw[darr] ([yshift=4pt]ileB.east) -- ([yshift=4pt]mop.west);
  \draw[arr] ([yshift=-6pt]ileB.east) -- ([yshift=-6pt]mop.west);

  % TCA cycle
  \draw[arr] ([xshift=3pt]dpyrBb.east) -- (acoa.west);
  \draw[arr] ([xshift=-3pt]aacoa.west) -- ([xshift=3pt]acoa.east);
  \draw[arr] (acoa.south) to[out=-80,in=160] (cit.north west);
  \draw[darr] ([yshift=2pt]dcitg.north) to[out=160,in=20] ([xshift=-12pt]oaa.north east);
  \draw[darr] ([xshift=5pt]cit.south) -- ([xshift=5pt]icit.north);
  \draw[darr] ([xshift=10pt]icit.south) -- ([xshift=17pt]akg.north);
  \draw[darr] ([xshift=11pt]akg.south) -- ([xshift=8pt]scoa.north);
  \draw[darr] ([xshift=-17pt]scoa.south) to[out=-160,in=-20] ([xshift=5pt]succ.south);
  \draw[darr] ([xshift=-17pt]succ.north) -- ([xshift=-4pt]fum.south);
  \draw[darr] ([xshift=-6pt]fum.north) -- ([xshift=-6pt]mal.south);
  \draw[darr] ([xshift=-2pt]mal.north) -- ([xshift=-6pt]oaa.south);
  \draw[arr] ([yshift=-4pt]glu3.west) -- (akg.north east);

  % braces and their arrows
  \draw[brc=0.3] (b1a) -- (b1b);
  \draw[brc] (b2a) -- (b2b);
  \draw[brc] (b3a) -- (b3b);
  \draw[brc] (b4a) -- (b4b);
  \draw[brc] (bAa) -- (bAb);
  \draw[brc] (bBa) -- (bBb);
  \draw[brc] (bCa) -- (bCb);
  \draw[brc=0.31] (bDa) -- (bDb);
  \draw[arr] (b1t) -- ++(9pt,0) to[out=0,in=90] ([xshift=-4pt]pyrB.north);
  \draw[arr] (b2t) to[out=0,in=-135] ([xshift=5pt]oaa.south west);
  \draw[arr] (b3t) -- ++(12pt,0) to[out=0,in=120] (fum.north west);
  \draw[arr] (b4t) -- ([yshift=1pt]succ.west);
  \draw[arr] (bAt) to[out=180,in=90] ([xshift=-15pt]acoa.north);
  \draw[arr] (bBt) to[out=180,in=90] ([xshift=-13pt]aacoa.north);
  \draw[arr, rounded corners=6pt] (bCt) -- ++(-6pt,0) -- ++(0,-32pt) -- ([yshift=4pt]glu3.west);
  \draw[arr] (bDt) -- ([xshift=2pt]scoa.east);
\end{pgfonlayer}
\end{tikzpicture}
\end{document}
